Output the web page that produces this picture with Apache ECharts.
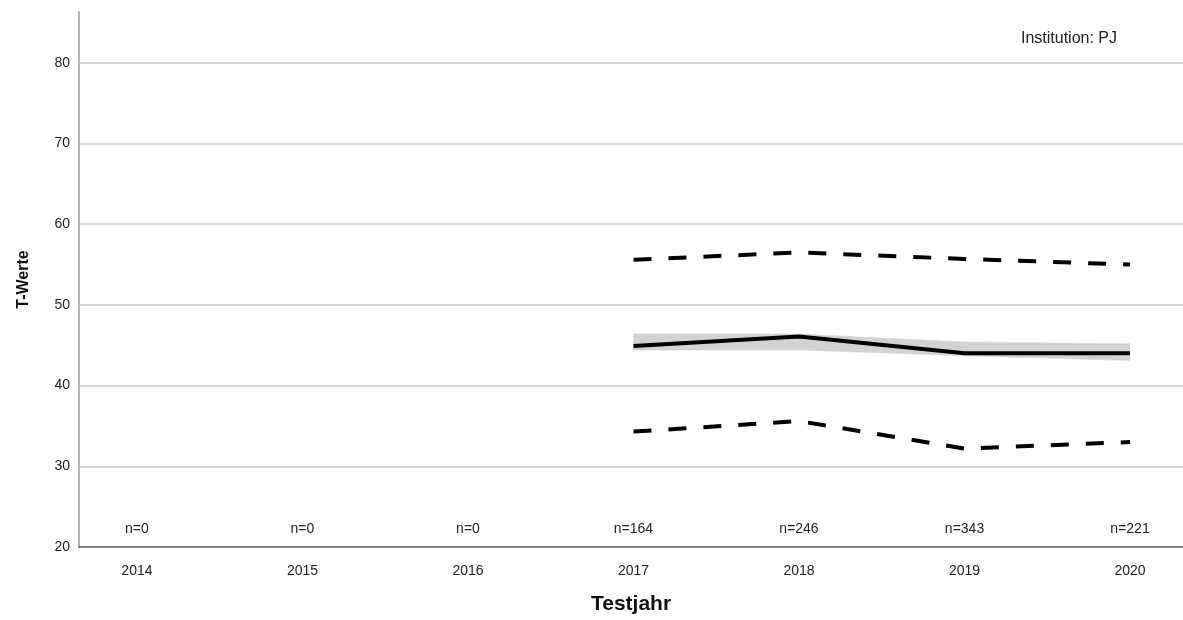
<!DOCTYPE html>
<html>
<head>
<meta charset="utf-8">
<script src="https://cdn.jsdelivr.net/npm/echarts@6/dist/echarts.min.js"></script>
<style>
html,body{margin:0;padding:0;background:#fff;}
#chart{width:1183px;height:620px;}
</style>
</head>
<body>
<div id="chart"></div>
<script>
// Data
var years = [2014, 2015, 2016, 2017, 2018, 2019, 2020];
var nCounts = [0, 0, 0, 164, 246, 343, 221];
var dataYears = [2017, 2018, 2019, 2020];
var meanValues = [44.9, 46.1, 44.0, 44.0];
var upperValues = [55.6, 56.5, 55.7, 55.0];
var lowerValues = [34.3, 35.6, 32.2, 33.0];
var ciLowValues = [44.4, 44.4, 43.7, 43.1];
var ciHighValues = [46.4, 46.4, 45.4, 45.2];
var yTicks = [20, 30, 40, 50, 60, 70, 80];
var gridValues = [30, 40, 50, 60, 70, 80];
var nLabelLevel = 22.2;

function pairs(xs, ys) { return xs.map(function (x, i) { return [x, ys[i]]; }); }

// band segments: [x0, lo0, hi0, x1, lo1, hi1]
var bandSegments = [];
for (var i = 0; i < dataYears.length - 1; i++) {
  bandSegments.push([dataYears[i], ciLowValues[i], ciHighValues[i],
                     dataYears[i + 1], ciLowValues[i + 1], ciHighValues[i + 1]]);
}

var chart = echarts.init(document.getElementById('chart'), null, { renderer: 'canvas' });
var font = '"Liberation Sans", Arial, sans-serif';

var option = {
  animation: false,
  backgroundColor: '#ffffff',
  textStyle: { fontFamily: font },
  grid: { left: 79, right: 0, top: 12, bottom: 71, containLabel: false },
  graphic: [{
    type: 'text', right: 66, top: 31,
    style: { text: 'Institution: PJ', font: '16px ' + font, fill: '#222' }
  }],
  xAxis: {
    type: 'value', min: 2013.65, max: 2020.32,
    name: 'Testjahr', nameLocation: 'middle', nameGap: 47,
    nameTextStyle: { fontSize: 21, fontWeight: 'bold', color: '#111', fontFamily: font },
    axisLine: { show: true, lineStyle: { color: '#555', width: 1.5 } },
    axisTick: { show: false },
    splitLine: { show: false },
    axisLabel: { customValues: years, fontSize: 14, color: '#222', margin: 17, fontFamily: font,
      formatter: function (v) { return String(Math.round(v)); } }
  },
  yAxis: {
    type: 'value', min: 20, max: 86.3,
    name: 'T-Werte', nameLocation: 'middle', nameGap: 47, nameRotate: 90,
    nameTextStyle: { fontSize: 16, fontWeight: 'bold', color: '#111', fontFamily: font },
    axisLine: { show: true, lineStyle: { color: '#999', width: 1.5 } },
    axisTick: { show: false },
    splitLine: { show: false },
    axisLabel: { customValues: yTicks, fontSize: 14, color: '#222', margin: 9, fontFamily: font }
  },
  series: [
    {
      name: 'n', type: 'scatter', z: 1,
      data: pairs(years, years.map(function () { return nLabelLevel; })),
      symbolSize: 0,
      itemStyle: { opacity: 1 },
      label: { show: true, position: 'inside', fontSize: 14, color: '#222', fontFamily: font,
        formatter: function (p) { return 'n=' + nCounts[p.dataIndex]; } },
      markLine: {
        silent: true, symbol: 'none', label: { show: false },
        lineStyle: { color: '#c8c8c8', width: 1.5, type: 'solid' },
        data: gridValues.map(function (v) { return { yAxis: v }; })
      }
    },
    {
      name: 'ciBand', type: 'custom', z: 2,
      data: bandSegments,
      encode: { x: [0, 3], y: [1, 2, 4, 5] },
      renderItem: function (params, api) {
        var p0 = api.coord([api.value(0), api.value(1)]);
        var p1 = api.coord([api.value(0), api.value(2)]);
        var p2 = api.coord([api.value(3), api.value(5)]);
        var p3 = api.coord([api.value(3), api.value(4)]);
        return { type: 'polygon', shape: { points: [p0, p1, p2, p3] },
          style: { fill: '#d2d2d2', stroke: '#d2d2d2', lineWidth: 0.5 } };
      }
    },
    {
      name: 'upper', type: 'line', z: 3,
      data: pairs(dataYears, upperValues), symbol: 'none',
      lineStyle: { color: '#000', width: 4, type: [18, 17], cap: 'butt' }
    },
    {
      name: 'lower', type: 'line', z: 3,
      data: pairs(dataYears, lowerValues), symbol: 'none',
      lineStyle: { color: '#000', width: 4, type: [18, 17], cap: 'butt' }
    },
    {
      name: 'mean', type: 'line', z: 4,
      data: pairs(dataYears, meanValues), symbol: 'none',
      lineStyle: { color: '#000', width: 4 }
    }
  ]
};
chart.setOption(option);
</script>
</body>
</html>
